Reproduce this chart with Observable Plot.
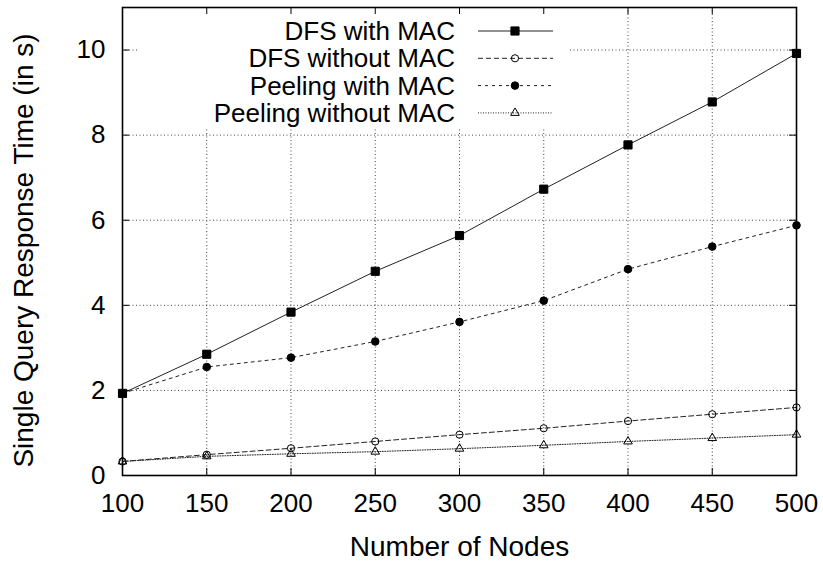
<!DOCTYPE html>
<html>
<head>
<meta charset="utf-8">
<script src="https://cdn.jsdelivr.net/npm/d3@7"></script>
<script src="https://cdn.jsdelivr.net/npm/@observablehq/plot@0.6"></script>
<style>
  html, body { margin: 0; padding: 0; background: #fff; }
  svg { font-family: "Liberation Sans", Arial, Helvetica, sans-serif; }
</style>
</head>
<body>
<div id="chart"></div>
<script>
const nodes = [100, 150, 200, 250, 300, 350, 400, 450, 500];
const dfsWithMac = [1.93, 2.85, 3.84, 4.80, 5.64, 6.73, 7.77, 8.78, 9.92];
const dfsWithoutMac = [0.33, 0.49, 0.64, 0.80, 0.96, 1.11, 1.28, 1.44, 1.60];
const peelingWithMac = [1.93, 2.55, 2.77, 3.15, 3.61, 4.11, 4.85, 5.38, 5.88];
const peelingWithoutMac = [0.33, 0.45, 0.51, 0.56, 0.63, 0.71, 0.80, 0.88, 0.96];

const seriesNames = ["DFS with MAC", "DFS without MAC", "Peeling with MAC", "Peeling without MAC"];
const xTicks = [100, 150, 200, 250, 300, 350, 400, 450, 500];
const yTicks = [0, 2, 4, 6, 8, 10];
const xGrid = [150, 200, 250, 300, 350, 400, 450];
const yGrid = [2, 4, 6, 8, 10];

const styles = [
  {dash: null, symbol: "square", r: 4.6, fill: "black", stroke: "black"},
  {dash: "5,3", symbol: "circle", r: 3.6, fill: "none", stroke: "black"},
  {dash: "3,4", symbol: "circle", r: 3.8, fill: "black", stroke: "black"},
  {dash: "1,1.5", symbol: "triangle", r: 3.2, fill: "none", stroke: "black"}
];
const allSeries = [dfsWithMac, dfsWithoutMac, peelingWithMac, peelingWithoutMac];
const tables = allSeries.map((vals, s) => nodes.map((n, i) => ({x: n, y: vals[i], s: seriesNames[s]})));

const symbolMap = {square: d3.symbolSquare, circle: d3.symbolCircle, triangle: d3.symbolTriangle};

function legend(index, scales, values, dims) {
  const g = d3.create("svg:g");
  const left = dims.marginLeft;
  g.append("rect").attr("x", left + 16).attr("y", dims.marginTop + 1)
    .attr("width", 432).attr("height", 119).attr("fill", "white");
  const textRight = left + 333, lx1 = left + 356, lx2 = left + 431, mx = left + 393;
  seriesNames.forEach((name, i) => {
    const st = styles[i];
    const cy = dims.marginTop + 24 + i * 27.3;
    g.append("text").attr("x", textRight).attr("y", cy).attr("dy", "0.35em")
      .attr("text-anchor", "end").attr("font-size", 26).attr("fill", "black").text(name);
    g.append("line").attr("x1", lx1).attr("x2", lx2).attr("y1", cy).attr("y2", cy)
      .attr("stroke", "#222").attr("stroke-width", 1)
      .attr("stroke-dasharray", st.dash);
    g.append("path").attr("transform", `translate(${mx},${cy})`)
      .attr("d", d3.symbol(symbolMap[st.symbol], Math.PI * st.r * st.r)())
      .attr("fill", st.fill).attr("stroke", st.stroke).attr("stroke-width", 1);
  });
  return g.node();
}

const marks = [
  Plot.ruleX(xGrid, {stroke: "#444", strokeDasharray: "1,2.5", strokeWidth: 1}),
  Plot.ruleY(yGrid, {stroke: "#444", strokeDasharray: "1,2.5", strokeWidth: 1}),
];
tables.forEach((t, i) => {
  const st = styles[i];
  marks.push(Plot.line(t, {x: "x", y: "y", stroke: "#222", strokeWidth: 1, strokeDasharray: st.dash}));
  marks.push(Plot.dot(t, {x: "x", y: "y", symbol: () => st.symbol, r: st.r, fill: st.fill, stroke: st.stroke, strokeWidth: 1}));
});
marks.push(legend);
marks.push(
  Plot.ruleX(xTicks, {y1: 0, y2: 0, insetTop: -7, stroke: "black"}),
  Plot.ruleX(xTicks, {y1: 11, y2: 11, insetBottom: -7, stroke: "black"}),
  Plot.ruleY(yTicks, {x1: 100, x2: 100, insetRight: -7, stroke: "black"}),
  Plot.ruleY(yTicks, {x1: 500, x2: 500, insetLeft: -7, stroke: "black"}),
  Plot.frame({stroke: "black", strokeWidth: 1.6}),
  Plot.axisX(xTicks, {tickSize: 0, tickPadding: 18, fontSize: 26, label: null}),
  Plot.axisY(yTicks, {tickSize: 0, tickPadding: 17, fontSize: 26, label: null}),
  Plot.text(["Number of Nodes"], {frameAnchor: "bottom", dy: 80, fontSize: 28, fill: "black"}),
  Plot.text(["Single Query Response Time (in s)"], {frameAnchor: "left", textAnchor: "middle", rotate: -90, dx: -98, dy: 9, fontSize: 28, fill: "black"})
);

const chart = Plot.plot({
  width: 823,
  height: 563,
  marginLeft: 122,
  marginRight: 27,
  marginTop: 7,
  marginBottom: 88,
  x: {domain: [100, 500]},
  y: {domain: [0, 11]},
  style: {fontFamily: "Liberation Sans, Arial, sans-serif", color: "black", background: "white"},
  marks
});
document.getElementById("chart").appendChild(chart);
</script>
</body>
</html>
